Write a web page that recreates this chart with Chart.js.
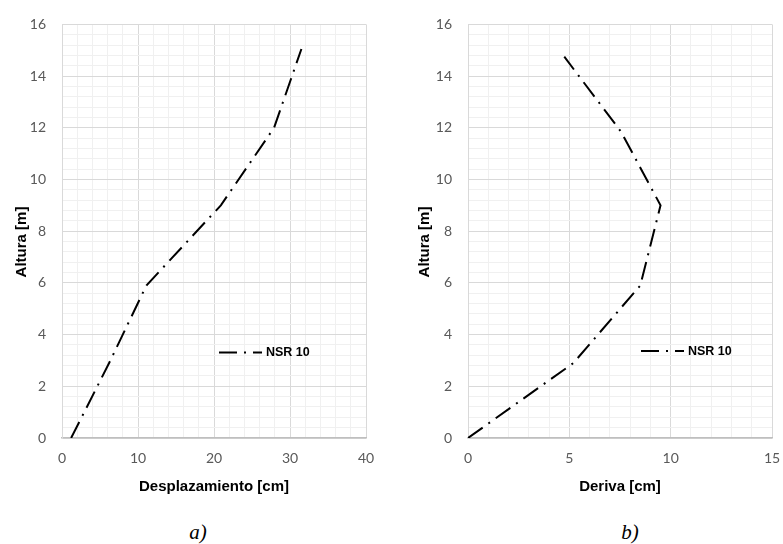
<!DOCTYPE html>
<html>
<head>
<meta charset="utf-8">
<script src="https://cdn.jsdelivr.net/npm/chart.js@4/dist/chart.umd.min.js"></script>
<style>
  html, body { margin: 0; padding: 0; background: #ffffff; }
  #page { position: relative; width: 783px; height: 544px; overflow: hidden; background: #ffffff; }
  .panel { position: absolute; top: 0; }
  .caption { position: absolute; font-family: "Liberation Serif", "DejaVu Serif", serif; font-style: italic; font-size: 21px; color: #000; transform: translate(-50%, -50%); white-space: nowrap; }
</style>
</head>
<body>
<div id="page">
  <div class="panel" style="left:0; width:392px; height:500px;"><canvas id="chartA" width="392" height="500"></canvas></div>
  <div class="panel" style="left:392px; width:401px; height:500px;"><canvas id="chartB" width="401" height="500"></canvas></div>
  <div class="caption" style="left:198px; top:532px;">a)</div>
  <div class="caption" style="left:630px; top:532px;">b)</div>
</div>
<script>
// Desplazamiento lateral por altura (panel a)
const alturaDesplazamiento = [0, 2.9, 5.9, 9.0, 12.0, 15.05];
const desplazamiento = [1.2, 6.2, 11.1, 20.9, 27.9, 31.5];

// Deriva por altura (panel b)
const alturaDeriva = [0, 2.9, 5.9, 9.0, 11.85, 14.75];
const deriva = [0, 5.2, 8.5, 9.5, 7.55, 4.75];

const serieNombre = 'NSR 10';
const tituloY = 'Altura [m]';
const tituloXA = 'Desplazamiento [cm]';
const tituloXB = 'Deriva [cm]';

const TICK_FONT = 'Lato, "Liberation Sans", sans-serif';
const TITLE_FONT = '"Liberation Sans", Arial, sans-serif';
const MAJOR = '#d9d9d9';
const MINOR = '#f0f0f0';
const DASH = [18, 7, 2, 7];

function isMultiple(v, m) {
  const q = v / m;
  return Math.abs(q - Math.round(q)) < 1e-6;
}

function toPoints(xs, ys) {
  return xs.map((x, i) => ({ x: x, y: ys[i] }));
}

// Legend drawn inside the plot area, plus the rotated y-axis title
const panelText = {
  id: 'panelText',
  afterDraw(chart, args, opts) {
    const ctx = chart.ctx;
    const ds = chart.data.datasets[0];
    const lg = opts.legend;
    ctx.save();
    ctx.strokeStyle = ds.borderColor;
    ctx.lineWidth = ds.borderWidth;
    ctx.setLineDash(ds.borderDash);
    ctx.beginPath();
    ctx.moveTo(lg.x, lg.y);
    ctx.lineTo(lg.x + lg.len, lg.y);
    ctx.stroke();
    ctx.setLineDash([]);
    ctx.fillStyle = '#000';
    ctx.font = 'bold 12.5px ' + TITLE_FONT;
    ctx.textBaseline = 'middle';
    ctx.textAlign = 'left';
    ctx.fillText(ds.label, lg.x + lg.len + 4, lg.y + 0.5);

    const yt = opts.yTitle;
    ctx.translate(yt.x, yt.y);
    ctx.rotate(-Math.PI / 2);
    ctx.font = 'bold 15px ' + TITLE_FONT;
    ctx.textAlign = 'center';
    ctx.textBaseline = 'middle';
    ctx.fillText(yt.text, 0, 0);
    ctx.restore();
  }
};

function makeChart(id, xs, ys, cfg) {
  const canvasH = 500;
  return new Chart(document.getElementById(id), {
    type: 'scatter',
    data: {
      datasets: [{
        label: serieNombre,
        data: toPoints(xs, ys),
        showLine: true,
        borderColor: '#000000',
        backgroundColor: '#000000',
        borderWidth: 2,
        borderDash: DASH,
        pointRadius: 0,
        tension: 0
      }]
    },
    options: {
      responsive: false,
      animation: false,
      layout: { padding: { left: 0, top: 20, right: cfg.padRight, bottom: 0 } },
      plugins: {
        legend: { display: false },
        tooltip: { enabled: false },
        panelText: { legend: cfg.legend, yTitle: { text: tituloY, x: cfg.yTitleX, y: 242 } }
      },
      scales: {
        x: {
          type: 'linear',
          min: 0,
          max: cfg.xMax,
          afterFit(scale) { scale.height = canvasH - 438; },
          ticks: {
            stepSize: cfg.xMinor,
            autoSkip: false,
            maxRotation: 0,
            padding: 12,
            color: '#595959',
            font: { family: TICK_FONT, size: 14 },
            callback: (v) => isMultiple(v, cfg.xMajor) ? String(Math.round(v)) : ''
          },
          grid: {
            drawTicks: false,
            color: (c) => (c.tick && isMultiple(c.tick.value, cfg.xMajor)) ? MAJOR : MINOR,
            lineWidth: 1
          },
          border: { display: true, color: '#bfbfbf', width: 1.5 },
          title: {
            display: true,
            text: cfg.xTitle,
            color: '#000',
            font: { family: TITLE_FONT, size: 15, weight: 'bold' },
            padding: { top: 0, bottom: 4 }
          }
        },
        y: {
          type: 'linear',
          min: 0,
          max: 16,
          afterFit(scale) { scale.width = cfg.left; },
          ticks: {
            stepSize: 0.4,
            autoSkip: false,
            padding: 16,
            color: '#595959',
            font: { family: TICK_FONT, size: 14 },
            callback: (v) => isMultiple(v, 2) ? String(Math.round(v)) : ''
          },
          grid: {
            drawTicks: false,
            color: (c) => (c.tick && isMultiple(c.tick.value, 2)) ? MAJOR : MINOR,
            lineWidth: 1
          },
          border: { display: true, color: MAJOR, width: 1 },
          title: { display: false }
        }
      }
    },
    plugins: [panelText]
  });
}

makeChart('chartA', desplazamiento, alturaDesplazamiento, {
  left: 62, padRight: 26, xMax: 40, xMinor: 2, xMajor: 10,
  xTitle: tituloXA, yTitleX: 22,
  legend: { x: 219, y: 352.5, len: 43 }
});

makeChart('chartB', deriva, alturaDeriva, {
  left: 76, padRight: 21, xMax: 15, xMinor: 1, xMajor: 5,
  xTitle: tituloXB, yTitleX: 33,
  legend: { x: 249, y: 351, len: 43 }
});
</script>
</body>
</html>
